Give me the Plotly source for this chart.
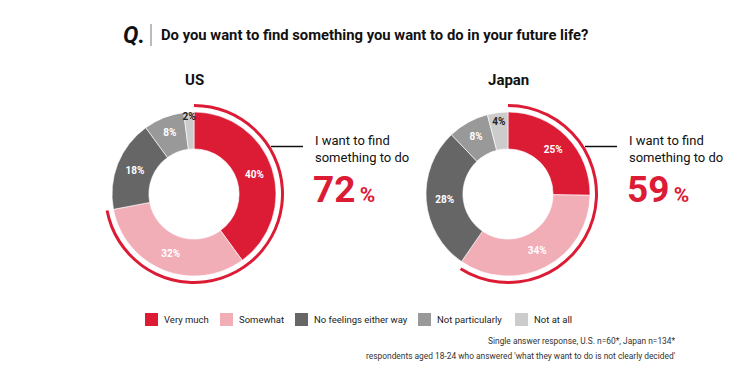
import plotly.graph_objects as go

# page body has an 8px margin: map reference pixel coords into the figure
OFF = 8
W, H = 746 - OFF, 378 - OFF

categories = ["Very much", "Somewhat", "No feelings either way", "Not particularly", "Not at all"]
colors = ["#DC1B35", "#F2AEB7", "#666666", "#999999", "#CCCCCC"]
label_colors = ["white", "white", "white", "white", "#222222"]
us_values = [40, 32, 18, 8, 2]
jp_values = [25, 34, 28, 8, 4]
countries = ["US", "Japan"]
want_totals = [72, 59]

FONT = "Roboto"
RED = "#DC1B35"

def px(x):
    return (x - OFF) / W

def py(y):
    return 1 - (y - OFF) / H

fig = go.Figure()

centers = [(194, 194), (508, 194)]
R_MAIN = 82
R_ARC_OUT = 90
R_ARC_IN = 87

for (cx, cy), vals, total in zip(centers, [us_values, jp_values], want_totals):
    fig.add_trace(go.Pie(
        labels=categories, values=vals, sort=False, direction="clockwise", rotation=0,
        hole=0.55,
        marker=dict(colors=colors, line=dict(color="white", width=0.6)),
        texttemplate="<b>%{value}%</b>", textposition="inside",
        insidetextorientation="horizontal",
        textfont=dict(family=FONT, size=10, color=label_colors),
        domain=dict(x=[px(cx - R_MAIN), px(cx + R_MAIN)], y=[py(cy + R_MAIN), py(cy - R_MAIN)]),
        showlegend=False, hoverinfo="label+value",
    ))
    fig.add_trace(go.Pie(
        labels=["want", "rest"], values=[total, 100 - total], sort=False,
        direction="clockwise", rotation=0, hole=R_ARC_IN / R_ARC_OUT,
        marker=dict(colors=[RED, "rgba(0,0,0,0)"], line=dict(width=0)),
        textinfo="none", hoverinfo="skip",
        domain=dict(x=[px(cx - R_ARC_OUT), px(cx + R_ARC_OUT)], y=[py(cy + R_ARC_OUT), py(cy - R_ARC_OUT)]),
        showlegend=False,
    ))

annotations = []
shapes = []

# Title
annotations.append(dict(x=px(121), y=py(35), xref="paper", yref="paper", xanchor="left", yanchor="middle",
                        text="<b><i>Q.</i></b>", showarrow=False,
                        font=dict(family=FONT, size=23, color="#111111")))
shapes.append(dict(type="line", xref="paper", yref="paper", x0=px(151), x1=px(151), y0=py(24), y1=py(46),
                   line=dict(color="#777777", width=1)))
annotations.append(dict(x=px(159), y=py(35), xref="paper", yref="paper", xanchor="left", yanchor="middle",
                        text="<b>Do you want to find something you want to do in your future life?</b>",
                        showarrow=False, font=dict(family=FONT, size=14.8, color="#111111")))

# Country labels, leader lines and totals
for (cx, cy), name, total in zip(centers, countries, want_totals):
    annotations.append(dict(x=px(cx), y=py(80), xref="paper", yref="paper", xanchor="center", yanchor="middle",
                            text=f"<b>{name}</b>", showarrow=False,
                            font=dict(family=FONT, size=15, color="#111111")))
    shapes.append(dict(type="line", xref="paper", yref="paper", x0=px(cx + 77), x1=px(cx + 109),
                       y0=py(146.5), y1=py(146.5), line=dict(color="#111111", width=1.5)))
    annotations.append(dict(x=px(cx + 119), y=py(149), xref="paper", yref="paper", xanchor="left", yanchor="middle",
                            text="I want to find<br>something to do", showarrow=False, align="left",
                            font=dict(family=FONT, size=13, color="#111111")))
    annotations.append(dict(x=px(cx + 117), y=py(189), xref="paper", yref="paper", xanchor="left", yanchor="middle",
                            text=f"<b>{total}</b><b><span style='font-size:21px'>\u2009%</span></b>", showarrow=False,
                            font=dict(family=FONT, size=37, color=RED)))

# Legend
legend_x = [145, 220, 295, 418, 515]
for lx, cat, col in zip(legend_x, categories, colors):
    shapes.append(dict(type="rect", xref="paper", yref="paper", x0=px(lx), x1=px(lx + 13),
                       y0=py(326), y1=py(313), fillcolor=col, line=dict(width=0)))
    annotations.append(dict(x=px(lx + 17), y=py(319.5), xref="paper", yref="paper", xanchor="left",
                            yanchor="middle", text=cat, showarrow=False,
                            font=dict(family=FONT, size=9.5, color="#222222")))

# Footnotes
annotations.append(dict(x=px(678), y=py(341), xref="paper", yref="paper", xanchor="right", yanchor="middle",
                        text="Single answer response, U.S. n=60*, Japan n=134*", showarrow=False,
                        font=dict(family=FONT, size=8.4, color="#333333")))
annotations.append(dict(x=px(678), y=py(356), xref="paper", yref="paper", xanchor="right", yanchor="middle",
                        text="respondents aged 18-24 who answered 'what they want to do is not clearly decided'",
                        showarrow=False, font=dict(family=FONT, size=8.4, color="#333333")))

fig.update_layout(
    width=W, height=H, margin=dict(l=0, r=0, t=0, b=0),
    paper_bgcolor="white", plot_bgcolor="white",
    annotations=annotations, shapes=shapes,
    uniformtext=dict(minsize=10, mode="show"),
    font=dict(family=FONT),
)

fig.write_html("out.html")
